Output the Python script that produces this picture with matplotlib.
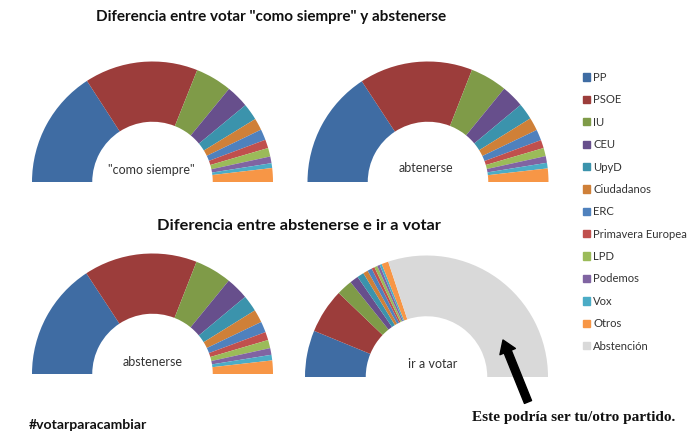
import matplotlib
matplotlib.use('Agg')
import matplotlib.pyplot as plt

partidos = ['PP', 'PSOE', 'IU', 'CEU', 'UpyD', 'Ciudadanos', 'ERC', 'Primavera Europea',
            'LPD', 'Podemos', 'Vox', 'Otros', 'Abstención']
colores = ['#3f6ca3', '#9c3d3b', '#7f9b48', '#674f8c', '#3b93ac', '#cf8038', '#4f81bd',
           '#c0504d', '#9bbb59', '#8064a2', '#4bacc6', '#f79646', '#d9d9d9']

# porcentaje de cada partido en cada semicirculo
como_siempre = [31.7, 30.4, 9.8, 6.1, 4.5, 3.2, 2.9, 2.3, 2.3, 1.8, 1.3, 3.7, 0]
abstenerse = [31.5, 30.4, 9.9, 6.1, 4.4, 3.5, 2.9, 2.2, 2.2, 1.8, 1.5, 3.6, 0]
ir_a_votar = [12.4, 11.9, 4.2, 2.3, 1.8, 1.3, 1.2, 0.8, 0.8, 0.7, 0.6, 1.8, 60.2]

W, H = 700, 432
plt.rcParams['font.family'] = ['Lato', 'DejaVu Sans']
fig = plt.figure(figsize=(W / 100, H / 100), dpi=100)

# capa en pixeles para textos, flecha y leyenda
capa = fig.add_axes([0, 0, 1, 1], zorder=5)
capa.set_xlim(0, W)
capa.set_ylim(H, 0)
capa.axis('off')
capa.patch.set_alpha(0)


def semicirculo(valores, cx, cy, r):
    ax = fig.add_axes([(cx - r) / W, 1 - (cy + r) / H, 2 * r / W, 2 * r / H])
    # la mitad inferior es un sector invisible
    vals = list(valores) + [sum(valores)]
    cols = colores + ['none']
    wedges, _ = ax.pie(vals, colors=cols, startangle=180, counterclock=False, radius=1,
                       wedgeprops=dict(width=0.5, linewidth=0))
    ax.set_xlim(-1, 1)
    ax.set_ylim(-1, 1)
    return wedges


semicirculo(como_siempre, 152.5, 182, 120.5)
semicirculo(abstenerse, 428, 182, 120.5)
semicirculo(abstenerse, 152.5, 374, 120.5)
semicirculo(ir_a_votar, 426.5, 377, 121.5)

capa.text(271, 17, 'Diferencia entre votar "como siempre" y abstenerse', fontsize=11,
          fontweight='bold', ha='center', va='center', color='#111111')
capa.text(299, 226, 'Diferencia entre abstenerse e ir a votar', fontsize=11.8,
          fontweight='bold', ha='center', va='center', color='#111111')

capa.text(151, 170, '"como siempre"', fontsize=9, ha='center', va='center', color='#333333')
capa.text(426, 168, 'abtenerse', fontsize=9, ha='center', va='center', color='#333333')
capa.text(153, 362, 'abstenerse', fontsize=9, ha='center', va='center', color='#333333')
capa.text(433, 364, 'ir a votar', fontsize=9, ha='center', va='center', color='#333333')

capa.text(29, 425, '#votarparacambiar', fontsize=10.1, fontweight='bold', ha='left', va='center',
          color='#111111')
capa.text(472, 417, 'Este podría ser tu/otro partido.', fontsize=11, fontweight='bold',
          family='Liberation Serif', ha='left', va='center', color='#111111')

capa.annotate('', xy=(503, 340), xytext=(528, 402),
              arrowprops=dict(facecolor='black', edgecolor='black', width=5.5, headwidth=12,
                              headlength=9, shrink=0))

handles = [plt.Rectangle((0, 0), 1, 1, color=c) for c in colores]
capa.legend(handles, partidos, loc='upper left', bbox_to_anchor=(583, 72),
            bbox_transform=capa.transData, frameon=False, fontsize=8.1, labelspacing=1.012,
            handlelength=0.62, handleheight=0.62, handletextpad=0.3, borderpad=0,
            borderaxespad=0, labelcolor='#333333')

fig.savefig('out.png', dpi=100)
